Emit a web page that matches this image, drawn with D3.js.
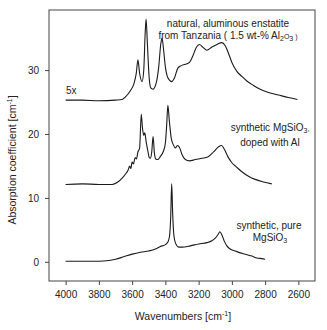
<!DOCTYPE html>
<html><head><meta charset="utf-8">
<script src="https://cdn.jsdelivr.net/npm/d3@7"></script>
<style>body{margin:0;background:#fff}svg{display:block}text{font-family:"Liberation Sans",Arial,sans-serif;fill:#222}</style>
</head><body><svg id="c" width="327" height="330"></svg>
<script>
const xTicks = [4000, 3800, 3600, 3400, 3200, 3000, 2800, 2600];
const yTicks = [0, 10, 20, 30];

const naturalWn = [4000,3900,3800,3700,3660,3640,3610,3590,3575,3565,3555,3540,3530,3522,3516,3508,3498,3488,3475,3455,3440,3428,3420,3412,3400,3385,3362,3345,3325,3305,3280,3255,3235,3215,3195,3175,3150,3120,3090,3060,3040,3020,3000,2970,2940,2910,2870,2830,2780,2720,2660,2606];
const naturalVal = [25.3,25.3,25.2,25.3,25.4,25.8,26.8,27.8,29.5,31.6,29.5,28.2,30,35.5,38.0,34,29,27.2,27.0,28.0,30.5,34.0,35.0,33.5,30.5,28.8,28.2,28.8,30.3,30.7,30.9,31.2,32.2,33.5,34.0,33.6,33.1,33.6,34.0,34.3,33.8,32.6,31.2,29.8,29.0,28.3,27.6,27.0,26.5,26.1,25.7,25.4];

const dopedWn = [4000,3900,3800,3720,3690,3660,3635,3625,3615,3608,3600,3592,3582,3574,3565,3555,3545,3538,3530,3524,3515,3505,3497,3490,3482,3474,3466,3458,3445,3430,3412,3400,3392,3385,3376,3365,3352,3340,3328,3315,3300,3280,3255,3220,3180,3145,3110,3080,3062,3045,3025,3000,2975,2940,2900,2860,2810,2760];
const dopedVal = [12.1,12.2,12.1,12.1,12.4,13.1,13.9,14.3,15.0,14.6,15.6,15.3,16.3,16.1,17.2,17.8,23.1,21.0,19.8,20.2,18.7,17.3,16.3,16.2,17.2,19.6,17.0,16.1,16.0,16.5,17.3,18.6,21.5,24.5,22.0,19.4,18.3,17.8,18.2,17.9,16.8,16.0,15.8,16.0,16.2,16.4,17.2,18.0,18.2,17.6,16.5,15.5,14.9,14.1,13.4,12.9,12.5,12.2];

const pureWn = [4000,3900,3800,3740,3700,3650,3600,3550,3500,3460,3430,3400,3385,3375,3368,3362,3356,3350,3340,3320,3300,3250,3200,3150,3120,3100,3085,3072,3060,3045,3030,3010,2980,2950,2920,2880,2850,2820,2800];
const pureVal = [0.1,0.1,0.1,0.2,0.4,0.8,1.2,1.5,1.7,2.0,2.4,2.7,3.1,4.0,7.0,12.2,7.5,4.5,3.0,2.3,2.3,2.5,2.8,3.0,3.3,3.7,4.2,4.7,4.2,3.2,2.5,2.0,1.7,1.4,1.2,0.9,0.6,0.5,0.4];

const svg = d3.select("#c");
const L=49,R=315,T=10,B=281;
const x = d3.scaleLinear().domain([4100,2500]).range([L,R]);
const y = d3.scaleLinear().domain([-3,39.4]).range([B,T]);

svg.append("rect").attr("x",L).attr("y",T).attr("width",R-L).attr("height",B-T)
  .attr("fill","none").attr("stroke","#444").attr("stroke-width",1);

const xa = svg.append("g").attr("transform",`translate(0,${B})`)
  .call(d3.axisBottom(x).tickValues(xTicks).tickSize(4).tickPadding(6).tickFormat(d3.format("d")));
const ya = svg.append("g").attr("transform",`translate(${L},0)`)
  .call(d3.axisLeft(y).tickValues(yTicks).tickSize(4).tickPadding(6));
[xa,ya].forEach(a=>{a.select(".domain").remove();a.selectAll("line").attr("stroke","#444");
  a.selectAll("text").attr("font-size",10).attr("font-family","Liberation Sans, Arial, sans-serif").attr("fill","#222");});

const line = d3.line().x(d=>x(d[0])).y(d=>y(d[1])).curve(d3.curveMonotoneX);
[[naturalWn,naturalVal],[dopedWn,dopedVal],[pureWn,pureVal]].forEach(([w,v])=>{
  svg.append("path").datum(w.map((d,i)=>[d,v[i]])).attr("d",line)
    .attr("fill","none").attr("stroke","#1a1a1a").attr("stroke-width",1.1);
});

function lbl(tx,ty,parts,anchor="middle"){
  const t=svg.append("text").attr("x",tx).attr("y",ty).attr("font-size",10).attr("text-anchor",anchor);
  parts.forEach(p=>{
    if(typeof p==="string") t.append("tspan").text(p);
    else t.append("tspan").attr("font-size",7).attr("dy",p.dy).text(p.t);
  });
  return t;
}
lbl(228,27,["natural, aluminous enstatite"]);
lbl(228,39,["from Tanzania ( 1.5 wt-% Al",{t:"2",dy:2},{t:"O",dy:-2},{t:"3",dy:2},{t:" )",dy:-2}]);
lbl(66,94,["5x"],"start");
lbl(270,131,["synthetic MgSiO",{t:"3",dy:2},{t:",",dy:-2}]);
lbl(270,146,["doped with Al"]);
lbl(269,229,["synthetic, pure"]);
lbl(270,241,["MgSiO",{t:"3",dy:2}]);

const yl=svg.append("text").attr("transform","translate(16,160) rotate(-90)").attr("text-anchor","middle").attr("font-size",10.5);
yl.append("tspan").text("Absorption coefficient [cm");
yl.append("tspan").attr("font-size",7).attr("dy",-4).text("-1");
yl.append("tspan").attr("dy",4).text("]");
const xl=svg.append("text").attr("x",183).attr("y",320).attr("text-anchor","middle").attr("font-size",10.5);
xl.append("tspan").text("Wavenumbers [cm");
xl.append("tspan").attr("font-size",7).attr("dy",-4).text("-1");
xl.append("tspan").attr("dy",4).text("]");
</script></body></html>
